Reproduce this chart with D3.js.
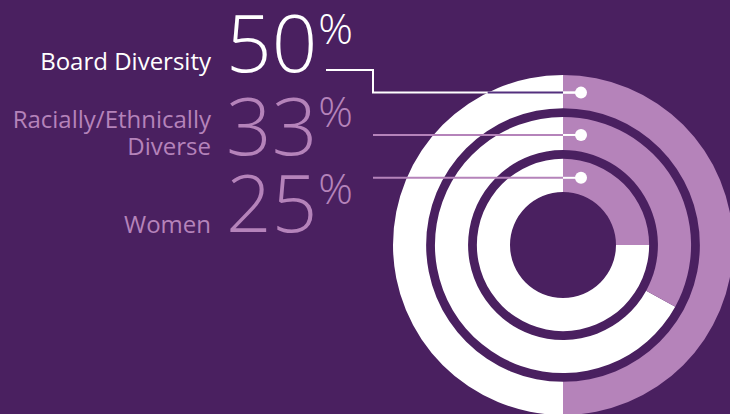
<!DOCTYPE html>
<html>
<head>
<meta charset="utf-8">
<script src="https://cdn.jsdelivr.net/npm/d3@7"></script>
<style>
  body { margin: 0; background: #4a2060; }
  svg { display: block; }
  text { font-family: "Open Sans", sans-serif; }
</style>
</head>
<body>
<div id="chart"></div>
<script>
// chart data
var keys = ["board", "racial", "women"];
var labels = [["Board Diversity"], ["Racially/Ethnically", "Diverse"], ["Women"]];
var values = [50, 33, 25];

var bg = "#4a2060";
var lilac = "#b583ba";
var width = 730, height = 414;
var cx = 563, cy = 245;

var svg = d3.select("#chart").append("svg")
  .attr("width", width)
  .attr("height", height);

svg.append("rect").attr("width", width).attr("height", height).attr("fill", bg);

// ring radii: outer ring is board, inner ring is women
var r = d3.scaleBand()
  .domain(keys.slice().reverse())
  .range([53, 170])
  .paddingInner(0.21);

var angle = d3.scaleLinear().domain([0, 100]).range([0, 2 * Math.PI]);

var arc = d3.arc();
var rings = svg.append("g").attr("transform", "translate(" + cx + "," + cy + ")");

keys.forEach(function(k, i) {
  var r0 = r(k), r1 = r(k) + r.bandwidth();
  rings.append("path")
    .attr("d", arc({innerRadius: r0, outerRadius: r1, startAngle: angle(values[i]), endAngle: angle(100)}))
    .attr("fill", "#fff");
  rings.append("path")
    .attr("d", arc({innerRadius: r0, outerRadius: r1, startAngle: angle(0), endAngle: angle(values[i])}))
    .attr("fill", lilac);
});

// text block
var labelX = 211, numX = 226;
var numBase = [72, 155, 232];
var labelBase = [[70], [128, 155], [233]];
var colors = ["#fff", lilac, lilac];

keys.forEach(function(k, i) {
  labels[i].forEach(function(t, j) {
    svg.append("text")
      .attr("x", labelX)
      .attr("y", labelBase[i][j])
      .attr("text-anchor", "end")
      .attr("font-size", 24)
      .attr("fill", colors[i])
      .text(t);
  });
  var num = svg.append("text")
    .attr("x", numX)
    .attr("y", numBase[i])
    .attr("font-size", 80)
    .attr("font-weight", 300)
    .attr("fill", colors[i])
    .text(values[i]);
  var w = num.node().getComputedTextLength();
  svg.append("text")
    .attr("x", numX + w + 1)
    .attr("y", numBase[i] - 28)
    .attr("font-size", 43)
    .attr("font-weight", 300)
    .attr("fill", colors[i])
    .text("%");
});

// leader lines + dots
var dotDx = 18;
var lineX = 373;
keys.forEach(function(k, i) {
  var rm = r(k) + r.bandwidth() / 2;
  var dy = Math.sqrt(rm * rm - dotDx * dotDx);
  var yDot = cy - dy;
  var dotX = cx + dotDx;
  var pts;
  if (i === 0) {
    pts = [[326, 70], [lineX, 70], [lineX, yDot], [dotX, yDot]];
  } else {
    pts = [[lineX, yDot], [dotX, yDot]];
  }
  svg.append("path")
    .attr("d", d3.line()(pts))
    .attr("fill", "none")
    .attr("stroke", colors[i])
    .attr("stroke-width", 2);
  if (i === 0) {
    // part over the white half of the outer ring
    var rOut = r(k) + r.bandwidth();
    var xIn = cx - Math.sqrt(rOut * rOut - dy * dy);
    svg.append("line")
      .attr("x1", xIn).attr("x2", cx)
      .attr("y1", yDot).attr("y2", yDot)
      .attr("stroke", "#54307e")
      .attr("stroke-width", 2);
  }
  svg.append("line")
    .attr("x1", cx).attr("x2", dotX)
    .attr("y1", yDot).attr("y2", yDot)
    .attr("stroke", "#fff")
    .attr("stroke-width", 2);
  svg.append("circle")
    .attr("cx", dotX).attr("cy", yDot)
    .attr("r", 6)
    .attr("fill", "#fff");
});
</script>
</body>
</html>
